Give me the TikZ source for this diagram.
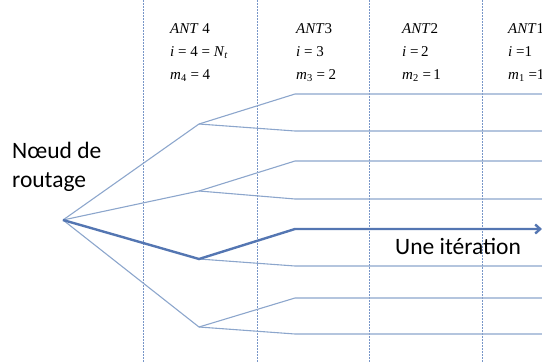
\documentclass[tikz,border=0pt]{standalone}
\usepackage{fontspec}
\usetikzlibrary{arrows.meta}
\setmainfont{Liberation Serif}
\newfontfamily\calfont{Carlito}
\definecolor{thinblue}{RGB}{140,166,204}
\definecolor{boldblue}{RGB}{84,118,178}
\definecolor{sepblue}{RGB}{120,150,200}
\tikzset{
  thinline/.style={draw=thinblue, line width=1.1pt},
  boldline/.style={draw=boldblue, line width=2.4pt},
  sepline/.style={draw=sepblue, line width=0.8pt, dash pattern=on 1.6pt off 1.4pt},
  antlabel/.style={anchor=base west, inner sep=0pt, font=\fontsize{15}{17}\selectfont},
  sanslabel/.style={anchor=base west, inner sep=0pt, font=\calfont\fontsize{23.5}{28}\selectfont}
}
\newcommand{\ivar}[1]{\textit{#1}}
\begin{document}
\begin{tikzpicture}[x=1pt,y=-1pt]
\useasboundingbox (0,0) rectangle (542,362);
% separators
\foreach \n/\x in {s1/143,s2/257,s3/369,s4/482}{
  \coordinate (\n t) at (\x,0);
  \coordinate (\n b) at (\x,362);
  \draw[sepline] (\n t) -- (\n b);
}
% tree points
\coordinate (r) at (63,220);
\coordinate (a1) at (199,124);
\coordinate (a2) at (199,191);
\coordinate (a3) at (199,259);
\coordinate (a4) at (199,327);
\coordinate (b1) at (295,94);
\coordinate (b2) at (295,131);
\coordinate (b3) at (295,161);
\coordinate (b4) at (295,199);
\coordinate (b5) at (295,229);
\coordinate (b6) at (295,266);
\coordinate (b7) at (295,298);
\coordinate (b8) at (295,334);
\foreach \i/\y in {1/94,2/131,3/161,4/199,5/229,6/266,7/298,8/334}{
  \coordinate (e\i) at (542,\y);
}
% thin branches
\draw[thinline] (r) -- (a1);
\draw[thinline] (r) -- (a2);
\draw[thinline] (r) -- (a4);
\draw[thinline] (a1) -- (b1) -- (e1);
\draw[thinline] (a1) -- (b2) -- (e2);
\draw[thinline] (a2) -- (b3) -- (e3);
\draw[thinline] (a2) -- (b4) -- (e4);
\draw[thinline] (a3) -- (b6) -- (e6);
\draw[thinline] (a4) -- (b7) -- (e7);
\draw[thinline] (a4) -- (b8) -- (e8);
% bold path
\draw[boldline, line join=miter, -{Straight Barb[length=5pt,width=9pt]}] (r) -- (a3) -- (b5) -- (e5);
% labels
\node[sanslabel] (nr1) at (12,158) {Nœud de};
\node[sanslabel] (nr2) at (12,187) {routage};
\node[sanslabel] (it) at (395,254) {Une itération};
% column headers
\node[antlabel] (h41) at (170,33) {\ivar{ANT} 4};
\node[antlabel] (h42) at (170,56) {\ivar{i} = 4 = \ivar{N}\textsubscript{\ivar{t}}};
\node[antlabel] (h43) at (170,79) {\ivar{m}\textsubscript{4} = 4};
\node[antlabel] (h31) at (296,33) {\ivar{ANT}3};
\node[antlabel] (h32) at (296,56) {\ivar{i} = 3};
\node[antlabel] (h33) at (296,79) {\ivar{m}\textsubscript{3} = 2};
\node[antlabel] (h21) at (402,33) {\ivar{ANT}2};
\node[antlabel] (h22) at (402,56) {\ivar{i} =\,2};
\node[antlabel] (h23) at (402,79) {\ivar{m}\textsubscript{2} =\,1};
\node[antlabel] (h11) at (508,33) {\ivar{ANT}1};
\node[antlabel] (h12) at (508,56) {\ivar{i} =1};
\node[antlabel] (h13) at (508,79) {\ivar{m}\textsubscript{1} =1};
\end{tikzpicture}
\end{document}
